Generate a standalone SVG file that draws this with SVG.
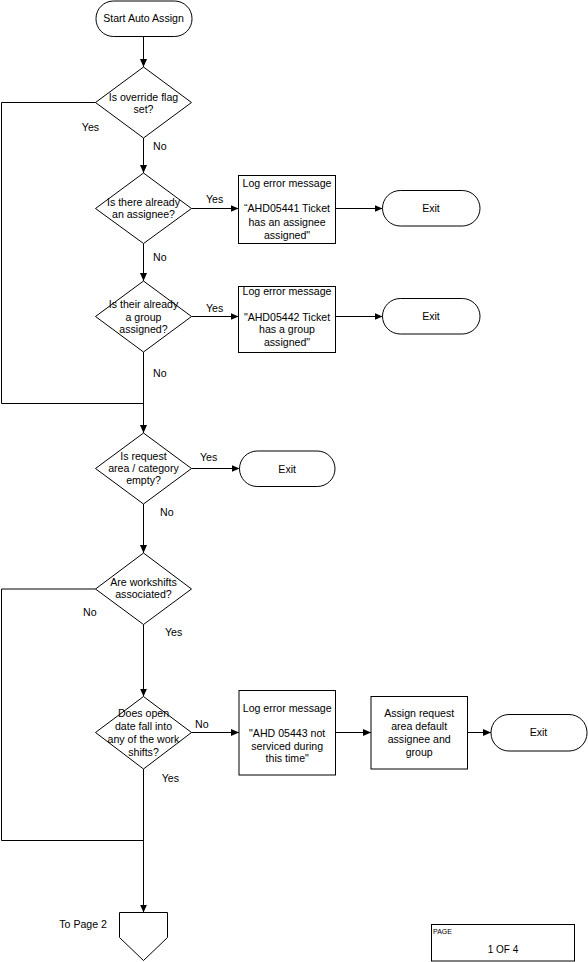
<svg xmlns="http://www.w3.org/2000/svg" width="588" height="962" viewBox="0 0 588 962">
<style>
text{font-family:"Liberation Sans",Arial,sans-serif;font-size:10.6px;fill:#000}
.c{text-anchor:middle}
.s{fill:#fff;stroke:#000;stroke-width:1}
.l{fill:none;stroke:#000;stroke-width:1}
.a{fill:none;stroke:#000;stroke-width:1;marker-end:url(#ah)}
</style>
<defs>
<marker id="ah" markerUnits="userSpaceOnUse" markerWidth="8" markerHeight="7" refX="8" refY="3.5" orient="auto">
<path d="M0,0 L8,3.5 L0,7 z" fill="#000"/>
</marker>
</defs>
<rect width="588" height="962" fill="#fff"/>
<g id="connectors">
<line class="a" x1="143.5" y1="36.5" x2="143.5" y2="67"/>
<line class="a" x1="143.5" y1="138" x2="143.5" y2="173"/>
<polyline class="l" points="95.5,102.5 1.5,102.5 1.5,403.5 143.5,403.5"/>
<line class="a" x1="191.5" y1="208.5" x2="238.5" y2="208.5"/>
<line class="a" x1="335.5" y1="208.5" x2="382.5" y2="208.5"/>
<line class="a" x1="143.5" y1="243.5" x2="143.5" y2="281"/>
<line class="a" x1="191.5" y1="316.5" x2="238.5" y2="316.5"/>
<line class="a" x1="335.5" y1="316.5" x2="382.5" y2="316.5"/>
<line class="a" x1="143.5" y1="352" x2="143.5" y2="433"/>
<line class="a" x1="191.5" y1="468.5" x2="239.5" y2="468.5"/>
<line class="a" x1="143.5" y1="504" x2="143.5" y2="553"/>
<polyline class="l" points="95.5,589 1.5,589 1.5,840.5 143.5,840.5"/>
<line class="a" x1="143.5" y1="624.5" x2="143.5" y2="696.5"/>
<line class="a" x1="191.5" y1="732.5" x2="239" y2="732.5"/>
<line class="a" x1="335.5" y1="732.5" x2="371" y2="732.5"/>
<line class="a" x1="467.5" y1="732.5" x2="491" y2="732.5"/>
<line class="a" x1="143.5" y1="769" x2="143.5" y2="912.5"/>
<text x="90.5" y="131" class="c">Yes</text>
<text x="153" y="150">No</text>
<text x="206" y="203">Yes</text>
<text x="153" y="260.7">No</text>
<text x="206" y="311.7">Yes</text>
<text x="153" y="377.3">No</text>
<text x="200" y="461.3">Yes</text>
<text x="160" y="515.7">No</text>
<text x="83" y="615.7">No</text>
<text x="165" y="636.3">Yes</text>
<text x="195" y="728.3">No</text>
<text x="161.7" y="782.3">Yes</text>
</g>
<g id="start">
<rect class="s" x="96" y="1" width="96" height="35.5" rx="17.5"/>
<text x="143.5" y="22" class="c">Start Auto Assign</text>
</g>
<g id="d1">
<polygon class="s" points="143.5,67 191.5,102.5 143.5,138 95.5,102.5"/>
<text x="143.5" y="101" class="c">Is override flag</text>
<text x="143.5" y="113" class="c">set?</text>
</g>
<g id="d2">
<polygon class="s" points="143.5,173 191.5,208.5 143.5,243.5 95.5,208.5"/>
<text x="143.5" y="205.7" class="c">Is there already</text>
<text x="143.5" y="218.3" class="c">an assignee?</text>
</g>
<g id="log1">
<rect class="s" x="238.5" y="175.5" width="97" height="68"/>
<text x="287" y="186.7" class="c">Log error message</text>
<text x="287" y="212.2" class="c">“AHD05441 Ticket</text>
<text x="287" y="225.5" class="c">has an assignee</text>
<text x="287" y="238.7" class="c">assigned"</text>
</g>
<g id="exit1">
<rect class="s" x="382.5" y="190.5" width="97.5" height="35.5" rx="17.75"/>
<text x="431" y="212.3" class="c">Exit</text>
</g>
<g id="d3">
<polygon class="s" points="143.5,281 191.5,316.5 143.5,352 95.5,316.5"/>
<text x="143.5" y="308" class="c">Is their already</text>
<text x="143.5" y="320.5" class="c">a group</text>
<text x="143.5" y="333" class="c">assigned?</text>
</g>
<g id="log2">
<rect class="s" x="238.5" y="286.5" width="97" height="66"/>
<text x="287" y="294.8" class="c">Log error message</text>
<text x="287" y="320.5" class="c">"AHD05442 Ticket</text>
<text x="287" y="333.2" class="c">has a group</text>
<text x="287" y="345.7" class="c">assigned"</text>
</g>
<g id="exit2">
<rect class="s" x="382.5" y="298.5" width="97.5" height="35.5" rx="17.75"/>
<text x="431" y="320.2" class="c">Exit</text>
</g>
<g id="d4">
<polygon class="s" points="143.5,433 191.5,468.5 143.5,504 95.5,468.5"/>
<text x="143.5" y="460" class="c">Is request</text>
<text x="143.5" y="472.3" class="c">area / category</text>
<text x="143.5" y="484" class="c">empty?</text>
</g>
<g id="exit3">
<rect class="s" x="239.5" y="451" width="95.5" height="35.5" rx="17.75"/>
<text x="287.2" y="472.6" class="c">Exit</text>
</g>
<g id="d5">
<polygon class="s" points="143.5,553 191.5,589 143.5,624.5 95.5,589"/>
<text x="143.5" y="586.3" class="c">Are workshifts</text>
<text x="143.5" y="598.3" class="c">associated?</text>
</g>
<g id="d6">
<polygon class="s" points="143.5,696.5 191.5,732.5 143.5,769 95.5,732.5"/>
<text x="143.5" y="716.7" class="c">Does open</text>
<text x="143.5" y="729.7" class="c">date fall into</text>
<text x="143.5" y="743" class="c">any of the work</text>
<text x="143.5" y="755.7" class="c">shifts?</text>
</g>
<g id="log3">
<rect class="s" x="239" y="690.5" width="96.5" height="84.5"/>
<text x="287.2" y="711.7" class="c">Log error message</text>
<text x="287.2" y="737.3" class="c">"AHD 05443 not</text>
<text x="287.2" y="749.7" class="c">serviced during</text>
<text x="287.2" y="762.3" class="c">this time"</text>
</g>
<g id="assign">
<rect class="s" x="371" y="696.5" width="96.5" height="72.5"/>
<text x="419.2" y="717.3" class="c">Assign request</text>
<text x="419.2" y="729.7" class="c">area default</text>
<text x="419.2" y="743" class="c">assignee and</text>
<text x="419.2" y="755.7" class="c">group</text>
</g>
<g id="exit4">
<rect class="s" x="491" y="714.5" width="96" height="36.5" rx="18"/>
<text x="538.5" y="736.3" class="c">Exit</text>
</g>
<g id="offpage">
<polygon class="s" points="119.5,912.5 167.5,912.5 167.5,937.5 143.5,960.5 119.5,937.5"/>
<text x="107" y="928" text-anchor="end">To Page 2</text>
</g>
<g id="page">
<rect class="s" x="431.5" y="924.5" width="143" height="36.5"/>
<text x="433" y="934" style="font-size:7px">PAGE</text>
<text x="503" y="953" class="c" style="font-size:10px">1 OF 4</text>
</g>
</svg>
